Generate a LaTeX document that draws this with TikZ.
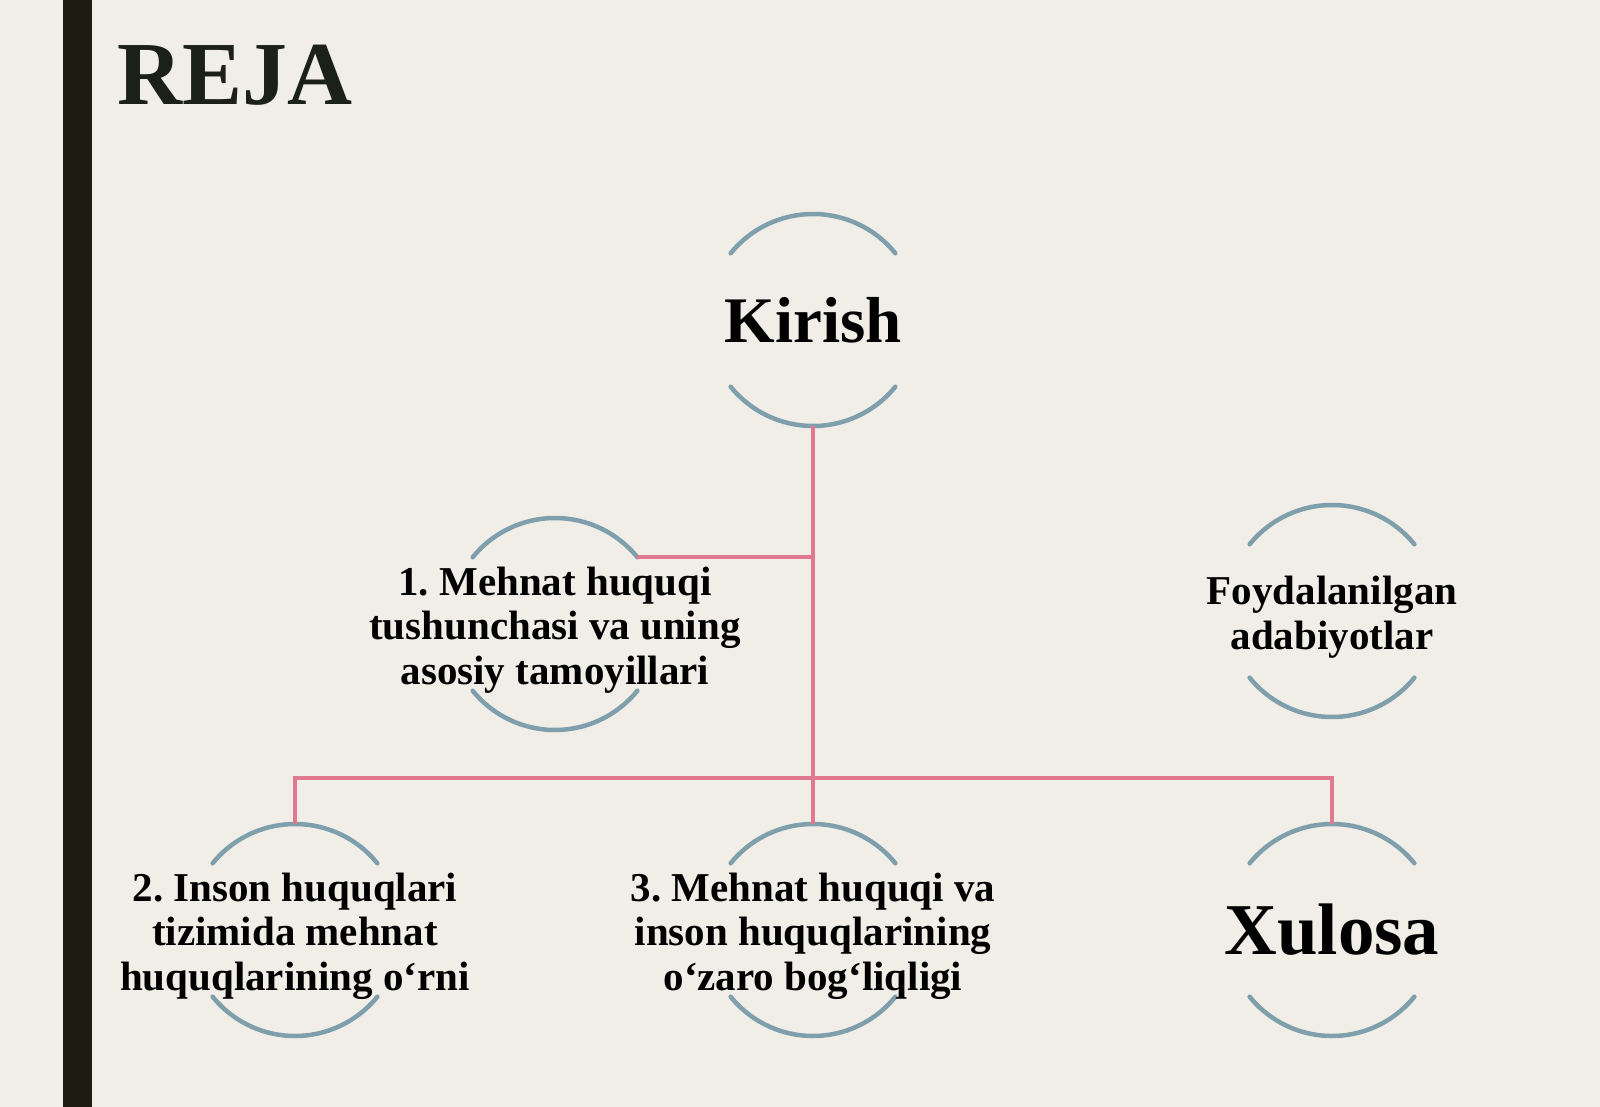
\documentclass[tikz,border=0pt]{standalone}
\usepackage{fontspec}
\setmainfont{Liberation Serif}
\usepackage{tikz}
\frenchspacing

\definecolor{paper}{HTML}{F0EEE7}
\definecolor{barcol}{HTML}{1E1B12}
\definecolor{titlecol}{HTML}{1B2117}
\definecolor{ringcol}{HTML}{7E9FAB}
\definecolor{linkcol}{HTML}{E07890}

\tikzset{
  ring/.style={circle, minimum size=212pt, inner sep=0pt, outer sep=0pt},
  arcs/.style={draw=ringcol, line width=4.5pt, line cap=round},
  link/.style={draw=linkcol, line width=4pt},
  txt/.style={align=center, yshift=-6pt, font=\bfseries\fontsize{41}{44.5}\selectfont},
}

\begin{document}
\begin{tikzpicture}[x=1pt, y=-1pt]

    \useasboundingbox[fill=paper] (0, 0) rectangle (1600, 1107);
    \fill[barcol] (63, 0) rectangle (92, 1107);

    \node[anchor=base west, text=titlecol, font=\bfseries\fontsize{90}{92}\selectfont] (reja) at (114, 105) {REJA};

    \node[ring] (kir) at (813, 320) {};
    \node[ring] (c1) at (555, 624) {};
    \node[ring] (fa) at (1332, 611) {};
    \node[ring] (c2) at (295, 930) {};
    \node[ring] (c3) at (813, 930) {};
    \node[ring] (xul) at (1332, 930) {};
    \coordinate (bus) at (813, 778);

    \foreach \r in {kir, c1, fa, c2, c3, xul} {
      \draw[arcs] (\r.39) arc[start angle=39, end angle=141, radius=106pt];
      \draw[arcs] (\r.219) arc[start angle=219, end angle=321, radius=106pt];
    }

    \draw[link] (kir.south) -- (c3.north);
    \draw[link] (c1.39) -| (bus);
    \draw[link] (c2.north) |- (bus) -| (xul.north);

    \node[txt, yshift=6pt, font=\bfseries\fontsize{65}{70}\selectfont] (tkir) at (kir) {Kirish};
    \node[txt] (t1) at (c1) {1. Mehnat huquqi\\tushunchasi va uning\\asosiy tamoyillari};
    \node[txt] (tfa) at (fa) {Foydalanilgan\\adabiyotlar};
    \node[txt] (t2) at (c2) {2. Inson huquqlari\\tizimida mehnat\\huquqlarining o‘rni};
    \node[txt] (t3) at (c3) {3. Mehnat huquqi va\\inson huquqlarining\\o‘zaro bog‘liqligi};
    \node[txt, yshift=6pt, font=\bfseries\fontsize{73}{78}\selectfont] (txul) at (xul) {Xulosa};

\end{tikzpicture}
\end{document}
